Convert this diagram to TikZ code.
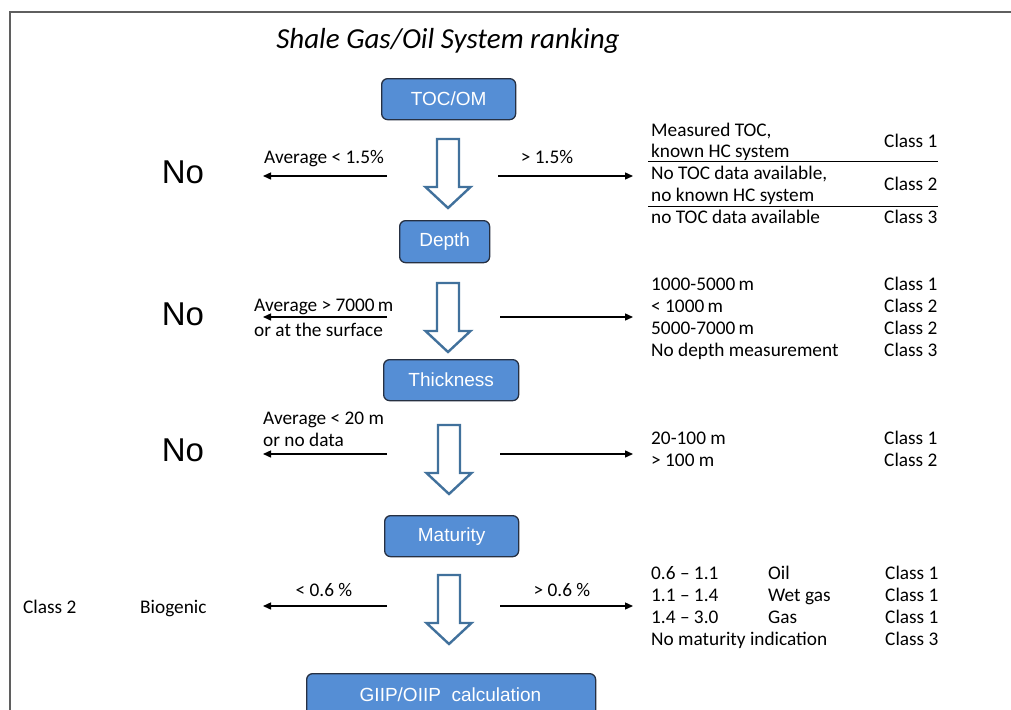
\documentclass[tikz,border=0pt]{standalone}
\usepackage{fontspec}
\setmainfont{Carlito}
\newfontfamily\arialf{Liberation Sans}
\usetikzlibrary{arrows.meta}
\definecolor{boxfill}{RGB}{85,142,213}
\definecolor{boxline}{RGB}{38,48,66}
\definecolor{blockline}{RGB}{65,113,156}
\definecolor{frame}{RGB}{95,95,95}
\tikzset{
  stepbox/.style={draw=boxline, line width=1.3pt, fill=boxfill, rounded corners=6pt,
    text=white, font=\arialf\fontsize{19}{22}\selectfont, inner sep=0pt, anchor=north west},
  txt/.style={font=\fontsize{19.3}{22}\selectfont, inner sep=0pt, anchor=mid west, yshift=-4pt},
  txtc/.style={font=\fontsize{19.3}{22}\selectfont, inner sep=0pt, anchor=mid, yshift=-4pt},
  nolabel/.style={font=\arialf\fontsize{33}{36}\selectfont, inner sep=0pt, anchor=mid, yshift=-9pt},
  sidearrow/.style={line width=1.4pt, -{Triangle[length=8pt,width=7pt]}},
  block/.style={draw=blockline, line width=2.4pt, fill=white, line join=miter},
  sep/.style={line width=1.3pt},
}
\newcommand{\blockarrow}[2]{%
  \draw[block] (#1-11,#2) -- (#1+11,#2) -- (#1+11,#2+48) -- (#1+22.5,#2+48) -- (#1,#2+69)
     -- (#1-22.5,#2+48) -- (#1-11,#2+48) -- cycle;}
\begin{document}
\begin{tikzpicture}[x=1pt,y=-1pt]
\useasboundingbox (0,0) rectangle (1011,709);
\clip (0,0) rectangle (1011,709);
\fill[white] (0,0) rectangle (1011,709);
% frame
\draw[frame, line width=2.2pt] (10,720) -- (10,12) -- (1020,12);

% title
\node[font=\itshape\fontsize{29}{32}\selectfont, inner sep=0pt, anchor=mid, yshift=-7pt] (title) at (448,39) {Shale Gas/Oil System ranking};

% boxes
\node[stepbox, minimum width=134pt, minimum height=41pt] (toc) at (381,78) {TOC/OM};
\node[stepbox, minimum width=90pt, minimum height=42pt] (depth) at (399,220) {Depth};
\node[stepbox, minimum width=135pt, minimum height=41pt] (thick) at (383,359) {Thickness};
\node[stepbox, minimum width=134pt, minimum height=41pt] (mat) at (384,515) {Maturity};
\node[stepbox, minimum width=289pt, minimum height=60pt] (giip) at (306,673) {};
\node[text=white, font=\arialf\fontsize{19}{22}\selectfont, inner sep=0pt, anchor=mid] (giiptxt) at (450.5,699) {GIIP/OIIP\ \ calculation};

% block arrows
\blockarrow{448}{139}
\blockarrow{448}{283}
\blockarrow{449}{425}
\blockarrow{449}{575}

% coordinates for side arrows
\coordinate (l1s) at (387,176); \coordinate (l1e) at (263,176);
\coordinate (r1s) at (498,176); \coordinate (r1e) at (633,176);
\coordinate (l2s) at (387,317); \coordinate (l2e) at (263,317);
\coordinate (r2s) at (500,317); \coordinate (r2e) at (633,317);
\coordinate (l3s) at (387,454); \coordinate (l3e) at (263,454);
\coordinate (r3s) at (500,454); \coordinate (r3e) at (633,454);
\coordinate (l4s) at (387,606); \coordinate (l4e) at (263,606);
\coordinate (r4s) at (500,606); \coordinate (r4e) at (633,606);
\foreach \a in {l1,r1,l2,r2,l3,r3,l4,r4} \draw[sidearrow] (\a s) -- (\a e);

% No labels
\node[nolabel] (no1) at (183,172) {No};
\node[nolabel] (no2) at (183,314) {No};
\node[nolabel] (no3) at (183,450) {No};

% left/right arrow labels
\node[txtc] (lab1) at (324,157) {Average < 1.5\%};
\node[txtc] (lab1r) at (547,157) {> 1.5\%};
\node[txt] (lab2a) at (254,305) {Average > 7000\,m};
\node[txt] (lab2b) at (254,330) {or at the surface};
\node[txt] (lab3a) at (263,418) {Average < 20 m};
\node[txt] (lab3b) at (263,440) {or no data};
\node[txtc] (lab4) at (324,590) {< 0.6 \%};
\node[txtc] (lab4r) at (562,590) {> 0.6 \%};
\node[txt] (cls4l) at (23,607) {Class 2};
\node[txt] (bio) at (140,607) {Biogenic};

% TOC table
\node[txt] (t1a) at (651,130) {Measured TOC,};
\node[txt] (t1b) at (651,151) {known HC system};
\node[txt] (t1c) at (884,141) {Class 1};
\coordinate (s1a) at (648,161.5); \coordinate (s1b) at (938,161.5);
\draw[sep] (s1a) -- (s1b);
\node[txt] (t2a) at (651,173) {No TOC data available,};
\node[txt] (t2b) at (651,195) {no known HC system};
\node[txt] (t2c) at (884,184) {Class 2};
\coordinate (s2a) at (648,206.5); \coordinate (s2b) at (938,206.5);
\draw[sep] (s2a) -- (s2b);
\node[txt] (t3a) at (651,217) {no TOC data available};
\node[txt] (t3c) at (884,217) {Class 3};

% Depth table
\node[txt] (d1) at (651,284) {1000-5000\,m};
\node[txt] (d1c) at (884,284) {Class 1};
\node[txt] (d2) at (651,306) {< 1000\,m};
\node[txt] (d2c) at (884,306) {Class 2};
\node[txt] (d3) at (651,328) {5000-7000\,m};
\node[txt] (d3c) at (884,328) {Class 2};
\node[txt] (d4) at (651,350) {No depth measurement};
\node[txt] (d4c) at (884,350) {Class 3};

% Thickness table
\node[txt] (h1) at (651,438) {20-100 m};
\node[txt] (h1c) at (884,438) {Class 1};
\node[txt] (h2) at (651,460) {> 100 m};
\node[txt] (h2c) at (884,460) {Class 2};

% Maturity table
\node[txt] (m1) at (651,573) {0.6 -- 1.1};
\node[txt] (m1b) at (768,573) {Oil};
\node[txt] (m1c) at (885,573) {Class 1};
\node[txt] (m2) at (651,595) {1.1 -- 1.4};
\node[txt] (m2b) at (768,595) {Wet gas};
\node[txt] (m2c) at (885,595) {Class 1};
\node[txt] (m3) at (651,617) {1.4 -- 3.0};
\node[txt] (m3b) at (768,617) {Gas};
\node[txt] (m3c) at (885,617) {Class 1};
\node[txt] (m4) at (651,639) {No maturity indication};
\node[txt] (m4c) at (885,639) {Class 3};
\end{tikzpicture}
\end{document}
